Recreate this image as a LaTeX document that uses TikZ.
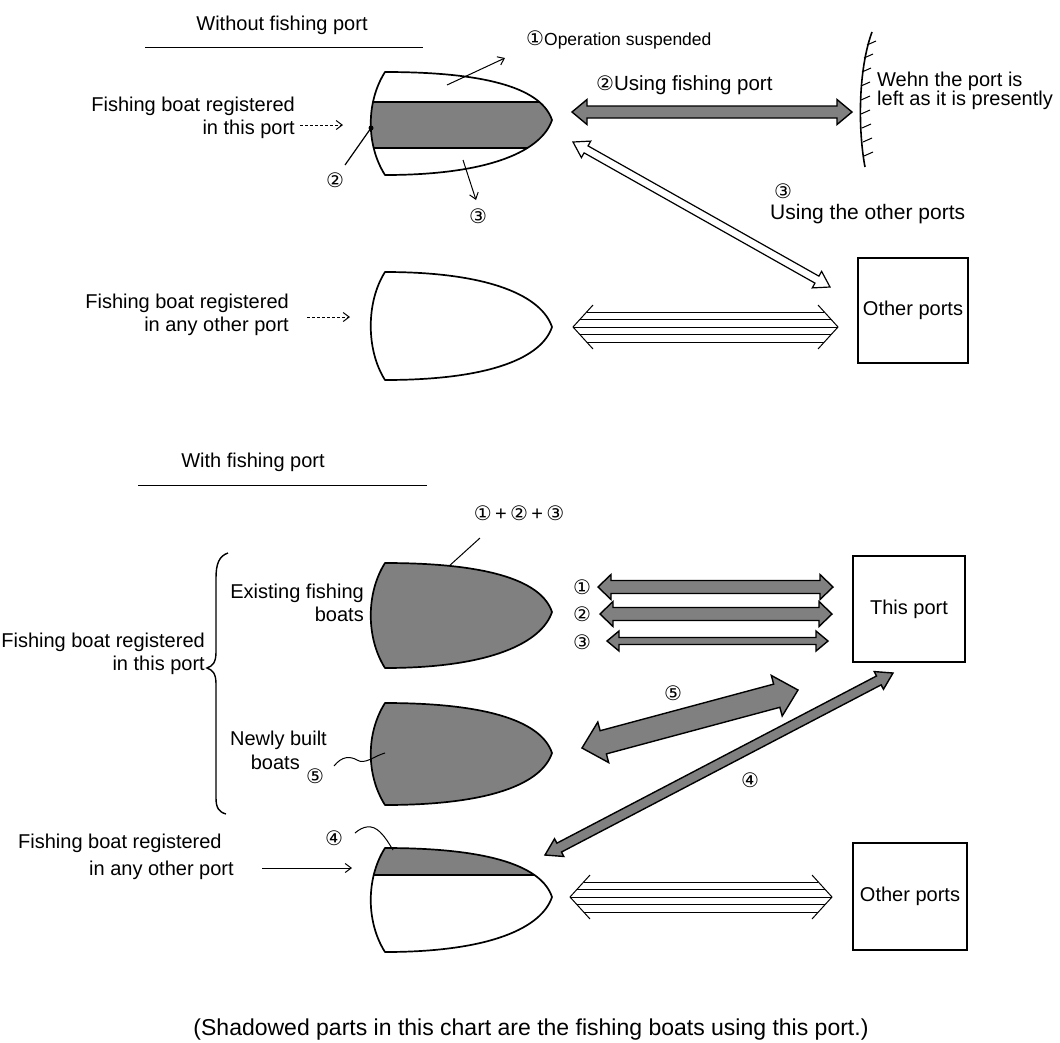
\documentclass[tikz,border=0pt]{standalone}
\usepackage{fontspec}
\setmainfont{Liberation Sans}
\newfontfamily\circfont{DejaVu Sans}
\usetikzlibrary{calc,arrows.meta}
\newcommand{\fs}[2]{\fontsize{#1}{#2}\selectfont}
\newcommand{\cn}[1]{{\circfont\fontsize{20}{22}\selectfont#1}}
\newcommand{\boatshape}[3]{(385,#1) .. controls (492,#1) and (542,#2-30) .. (552,#2) .. controls (542,#2+30) and (492,#3) .. (385,#3) .. controls (366,#3-30) and (366,#1+30) .. cycle}
\newcommand{\fatdbl}[6][]{%
  \path[#1] let \p1=(#2), \p2=(#3), \n1={atan2(\y2-\y1,\x2-\x1)} in
  (\p1) -- ($(\p1)+(\n1:#6)+(\n1+90:#5)$) -- ($(\p1)+(\n1:#6)+(\n1+90:#4)$)
  -- ($(\p2)+(\n1+180:#6)+(\n1+90:#4)$) -- ($(\p2)+(\n1+180:#6)+(\n1+90:#5)$)
  -- (\p2) -- ($(\p2)+(\n1+180:#6)+(\n1-90:#5)$) -- ($(\p2)+(\n1+180:#6)+(\n1-90:#4)$)
  -- ($(\p1)+(\n1:#6)+(\n1-90:#4)$) -- ($(\p1)+(\n1:#6)+(\n1-90:#5)$) -- cycle;}
\newcommand{\tripledbl}[2]{%
  \draw[lines3] ($(#1)+(20,-22)$) -- (#1) -- ($(#1)+(20,22)$);
  \draw[lines3] ($(#2)+(-20,-22)$) -- (#2) -- ($(#2)+(-20,22)$);
  \foreach \d/\a in {-15/13.6,-7.5/6.8,0/1,7.5/6.8,15/13.6}
    \draw[lines3] ($(#1)+(\a,\d)$) -- ($(#2)+(-\a,\d)$);}
\begin{document}
\begin{tikzpicture}[x=1pt,y=-1pt,
  lbl/.style={font=\fs{20}{23}, inner sep=0pt},
  num/.style={font=\circfont\fs{20}{22}, inner sep=0pt},
  hull/.style={draw=black, line width=1.7pt, line join=round},
  greyfill/.style={fill=black!50},
  portbox/.style={draw, line width=1.5pt, inner sep=0pt, font=\fs{20}{23}},
  fineline/.style={line width=1pt},
  arr/.style={-{Straight Barb[length=6pt,width=9pt]}},
  fatarrow/.style={draw, line width=1.4pt, fill=black!50, line join=miter},
  hollowarrow/.style={draw, line width=1.2pt, fill=white, line join=miter},
  lines3/.style={line width=1pt},
]
\useasboundingbox (0,0) rectangle (1060,1042);
\fill[white] (0,0) rectangle (1060,1042);

% ---------------- Without fishing port ----------------
\node[lbl] (h1) at (282,25) {Without fishing port};
\draw[line width=1pt] (145,47) -- (423,47);

% boat 1
\begin{scope}
  \clip \boatshape{72}{120}{175};
  \fill[greyfill] (300,102) rectangle (600,148);
  \draw[hull] (300,102) -- (600,102) (300,148) -- (600,148);
\end{scope}
\draw[hull] \boatshape{72}{120}{175};

\node[lbl, align=right, anchor=east] (reg1) at (295,117.5) {Fishing boat registered\\in this port};
\coordinate (d1s) at (300,125); \coordinate (d1e) at (343,125);
\draw[fineline, dash pattern=on 3pt off 2pt, arr] (d1s) -- (d1e);

\node[lbl, font=\fs{17.5}{20}, anchor=west] (ops) at (526,40) {\cn{①}Operation suspended};
\coordinate (o1s) at (447,85); \coordinate (o1e) at (505,58);
\draw[fineline, arr] (o1s) -- (o1e);
\coordinate (o3s) at (463,160); \coordinate (o3e) at (476,200);
\draw[fineline, arr] (o3s) -- (o3e);
\node[num] (n3a) at (478,216) {③};
\coordinate (o2s) at (345,165); \coordinate (o2e) at (371,128);
\draw[line width=1.2pt] (o2s) -- (o2e);
\fill (o2e) circle (2.5);
\node[num] (n2a) at (335,180) {②};

\node[lbl, font=\fs{20.5}{23}, anchor=west] (ufp) at (596,85) {\cn{②}Using fishing port};
\coordinate (f2s) at (572,112); \coordinate (f2e) at (852,112);
\fatdbl[fatarrow]{f2s}{f2e}{6pt}{12.5pt}{15pt}

% wall
\draw[line width=1.6pt] (872,32) .. controls (858,70) and (858,130) .. (865,167);
\foreach \y/\x in {45/867,58/864,72/862,86/861,100/861,114/861,128/862,142/863,156/864}
  \draw[line width=1pt] (\x,\y) -- (\x+9,\y-4);
\node[lbl, align=left, anchor=west, font=\fs{20}{18}] (wall) at (877,91) {Wehn the port is\\left as it is presently};

% hollow arrow (3)
\coordinate (h3s) at (573,142); \coordinate (h3e) at (830,287);
\fatdbl[hollowarrow]{h3s}{h3e}{4pt}{9.5pt}{15pt}
\node[num] (n3b) at (783,191) {③};
\node[lbl, font=\fs{21}{23}, anchor=west] (uop) at (770,214) {Using the other ports};

% boat 2
\draw[hull] \boatshape{272}{327}{380};
\node[lbl, align=right, anchor=east] (reg2) at (289,314.5) {Fishing boat registered\\in any other port};
\coordinate (d2s) at (307,317); \coordinate (d2e) at (350,317);
\draw[fineline, dash pattern=on 3pt off 2pt, arr] (d2s) -- (d2e);

\coordinate (t1s) at (573,327); \coordinate (t1e) at (838,327);
\tripledbl{t1s}{t1e}
\node[portbox, minimum width=110pt, minimum height=105pt] (op1) at (913,310.5) {Other ports};

% ---------------- With fishing port ----------------
\node[lbl] (h2) at (253,462) {With fishing port};
\draw[line width=1pt] (138,485) -- (427,485);

\node[lbl, font=\fs{20}{22}] (sum) at (519,513) {\cn{①}\,+\,\cn{②}\,+\,\cn{③}};
\coordinate (p1s) at (480,538); \coordinate (p1e) at (448,567);
\draw[fineline] (p1s) -- (p1e);

% boat 3 and 4 (shaded)
\draw[hull, greyfill] \boatshape{563}{612}{668};
\draw[hull, greyfill] \boatshape{703}{753}{805};

\node[lbl, align=right, anchor=east] (exi) at (364,602.5) {Existing fishing\\boats};
\node[lbl, anchor=east] (nb1) at (327,740) {Newly built};
\node[lbl, anchor=east] (nb2) at (300,762) {boats};
\node[num] (n5a) at (315,776) {⑤};
\coordinate (w5s) at (334,766); \coordinate (w5e) at (385,753);
\draw[fineline] (w5s) .. controls (342,756) and (350,756) .. (357,760) .. controls (365,765) and (374,756) .. (w5e);

% brace
\draw[line width=1.4pt] (228,553) .. controls (219,556) and (216,564) .. (216,578) -- (216,652)
  .. controls (216,662) and (213,666) .. (207,668) .. controls (213,670) and (216,674) .. (216,684)
  -- (216,798) .. controls (216,808) and (219,812) .. (226,814);
\node[lbl, align=right, anchor=east] (reg3) at (205,654) {Fishing boat registered\\in this port};

% shaded arrows to this port
\node[num] (c1) at (582,587) {①};
\node[num] (c2) at (582,614) {②};
\node[num] (c3) at (582,642) {③};
\coordinate (a1s) at (598,587); \coordinate (a1e) at (833,587);
\coordinate (a2s) at (600,614); \coordinate (a2e) at (832,614);
\coordinate (a3s) at (607,641); \coordinate (a3e) at (828,641);
\fatdbl[fatarrow]{a1s}{a1e}{6.5pt}{12.5pt}{13pt}
\fatdbl[fatarrow]{a2s}{a2e}{6.5pt}{12.5pt}{13pt}
\fatdbl[fatarrow]{a3s}{a3e}{3.5pt}{10pt}{12pt}
\node[portbox, minimum width=112pt, minimum height=106pt] (tp) at (909,609) {This port};

\node[num] (n5b) at (673,693) {⑤};
\coordinate (a5s) at (582,748); \coordinate (a5e) at (798,690);
\fatdbl[fatarrow]{a5s}{a5e}{12pt}{21pt}{22pt}

\node[num] (n4b) at (750,780) {④};
\coordinate (a4s) at (545,855); \coordinate (a4e) at (893,673);
\fatdbl[fatarrow]{a4s}{a4e}{5pt}{10pt}{16pt}

% boat 5
\begin{scope}
  \clip \boatshape{848}{897}{952};
  \fill[greyfill] (300,800) rectangle (600,875);
  \draw[hull] (300,875) -- (600,875);
\end{scope}
\draw[hull] \boatshape{848}{897}{952};
\node[num] (n4a) at (334,838) {④};
\coordinate (w4s) at (355,833); \coordinate (w4e) at (393,850);
\draw[fineline] (w4s) .. controls (363,826) and (372,824) .. (380,832) .. controls (386,838) and (388,842) .. (w4e);

\node[lbl, anchor=west] (reg4a) at (18,843) {Fishing boat registered};
\node[lbl, anchor=west] (reg4b) at (89,870) {in any other port};
\coordinate (d4s) at (262,868); \coordinate (d4e) at (352,868);
\draw[fineline, arr] (d4s) -- (d4e);

\coordinate (t2s) at (570,897); \coordinate (t2e) at (832,897);
\tripledbl{t2s}{t2e}
\node[portbox, minimum width=114pt, minimum height=107pt] (op2) at (910,896.5) {Other ports};

\node[lbl, font=\fs{23}{26}] (foot) at (531,1030) {(Shadowed parts in this chart are the fishing boats using this port.)};
\end{tikzpicture}
\end{document}
